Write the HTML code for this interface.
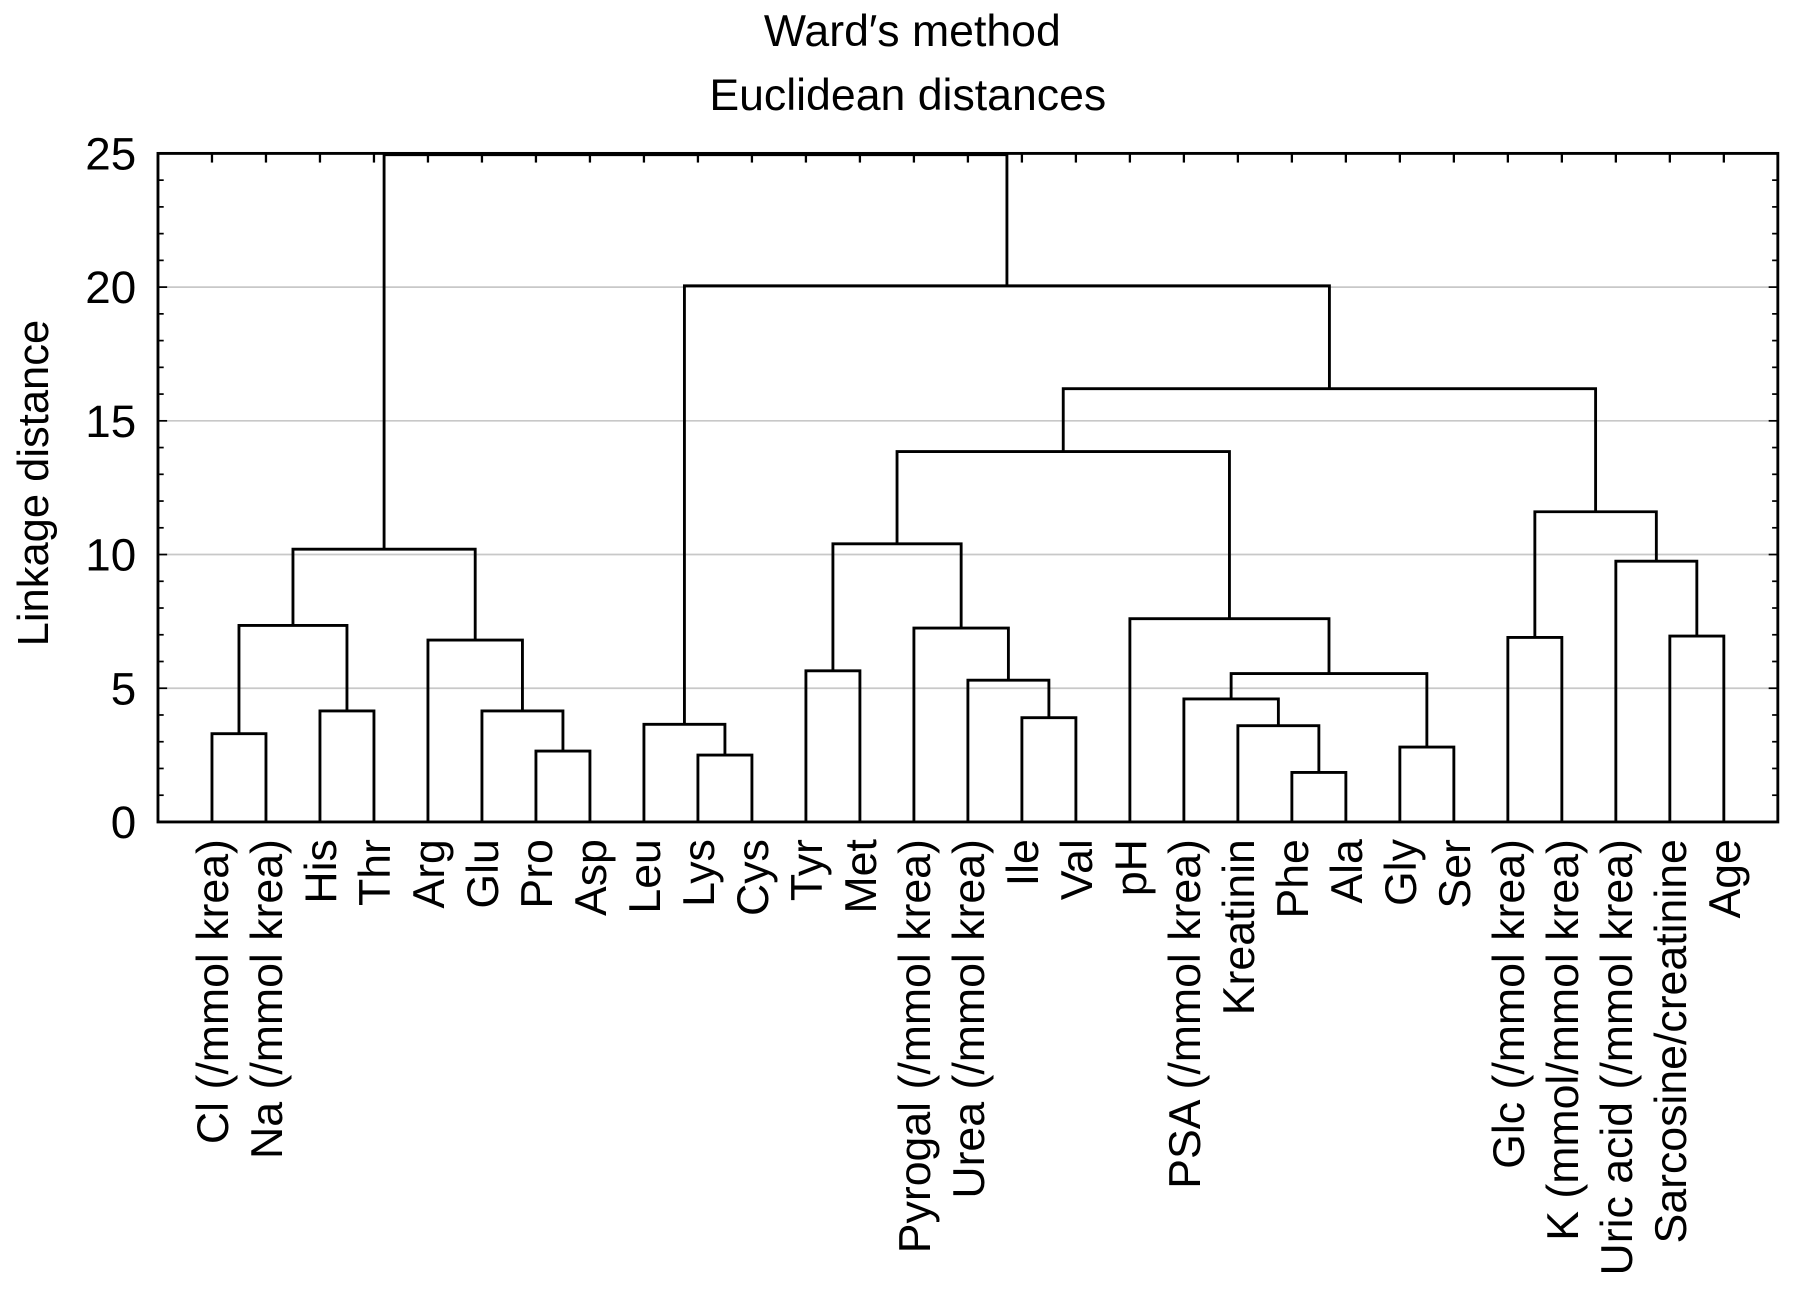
<!DOCTYPE html>
<html><head><meta charset="utf-8"><style>
html,body{margin:0;padding:0;background:#fff;}
svg{display:block;}
text{font-family:"Liberation Sans",Arial,sans-serif;fill:#000;}
</style></head><body>
<svg id="chart" width="1795" height="1292" viewBox="0 0 1568 1128.6" xmlns="http://www.w3.org/2000/svg">
<text x="797" y="40" font-size="39" text-anchor="middle">Ward′s method</text>
<text x="793" y="96" font-size="39" text-anchor="middle">Euclidean distances</text>
<text transform="translate(42,422) rotate(-90)" font-size="38" text-anchor="middle">Linkage  distance</text>
<g id="grid"></g>
<g id="ticks"></g>
<g id="links"></g>
<g id="labels"></g>
<rect x="138" y="134" width="1415" height="584" fill="none" stroke="#000" stroke-width="2.5"/>
</svg>
<script>
const leaves = ["Cl (/mmol krea)","Na (/mmol krea)","His","Thr","Arg","Glu","Pro","Asp","Leu","Lys","Cys","Tyr","Met","Pyrogal (/mmol krea)","Urea (/mmol krea)","Ile","Val","pH","PSA (/mmol krea)","Kreatinin","Phe","Ala","Gly","Ser","Glc (/mmol krea)","K (mmol/mmol krea)","Uric acid (/mmol krea)","Sarcosine/creatinine","Age"];
const mergeH = [3.3, 4.15, 7.35, 2.65, 4.15, 6.8, 10.2, 2.5, 3.65, 5.65, 3.9, 5.3, 7.25, 10.4, 1.85, 3.6, 4.6, 2.8, 5.55, 7.6, 13.85, 6.9, 6.95, 9.75, 11.6, 16.2, 20.05, 24.95];
const yTicks = [0,5,10,15,20,25];

const L=138,R=1553,T=134,B=718,yMax=25;
const xLeaf = i => L + (i+1)*(R-L)/(leaves.length+1);
const yPos = v => B - v*(B-T)/yMax;
const NS="http://www.w3.org/2000/svg";
function mk(tag, parent, attrs){const e=document.createElementNS(NS,tag);for(const k in attrs)e.setAttribute(k,attrs[k]);parent.appendChild(e);return e;}

const grid=document.getElementById('grid'), ticks=document.getElementById('ticks'), links=document.getElementById('links'), labels=document.getElementById('labels');
yTicks.forEach(v=>{
  if(v>0&&v<25){const g=mk('line',grid,{x1:L,x2:R,y1:yPos(v),y2:yPos(v),stroke:'#c8c8c8','stroke-width':1.5});
  
  }
  const t=mk('text',ticks,{x:119,y:yPos(v)+14,'font-size':40,'text-anchor':'end'});t.textContent=v;
  
  
});
for(let v=0;v<=25;v++){
  const len=v%5===0?8:5;
  mk('line',ticks,{x1:L,x2:L+len,y1:yPos(v),y2:yPos(v),stroke:'#000','stroke-width':1.5});
  mk('line',ticks,{x1:R,x2:R-len,y1:yPos(v),y2:yPos(v),stroke:'#000','stroke-width':1.5});
}
leaves.forEach((n,i)=>{
  mk('line',ticks,{x1:xLeaf(i),x2:xLeaf(i),y1:T,y2:T+8,stroke:'#000','stroke-width':2});
  const t=mk('text',labels,{transform:`translate(${xLeaf(i)+14},733) rotate(-90)`,'font-size':39,'text-anchor':'end'});
  t.textContent=n;
  
  
});
const nx=[],ny=[];
leaves.forEach((n,i)=>{nx[i]=xLeaf(i);ny[i]=0;});
const N=leaves.length;
const ids=[[0,1],[2,3],[N+0,N+1],[6,7],[5,N+3],[4,N+4],[N+2,N+5],[9,10],[8,N+7],[11,12],[15,16],[14,N+10],[13,N+11],[N+9,N+12],[20,21],[19,N+14],[18,N+15],[22,23],[N+16,N+17],[17,N+18],[N+13,N+19],[24,25],[27,28],[26,N+22],[N+21,N+23],[N+20,N+24],[N+8,N+25],[N+6,N+26]];
ids.forEach((p,k)=>{
  const a=p[0],b=p[1],h=mergeH[k],yy=yPos(h);
  const path=mk('path',links,{d:`M${nx[a]},${yPos(ny[a])}V${yy}H${nx[b]}V${yPos(ny[b])}`,fill:'none',stroke:'#000','stroke-width':2.5});
  
  
  nx[N+k]=(nx[a]+nx[b])/2;ny[N+k]=h;
});
</script>
</body></html>
